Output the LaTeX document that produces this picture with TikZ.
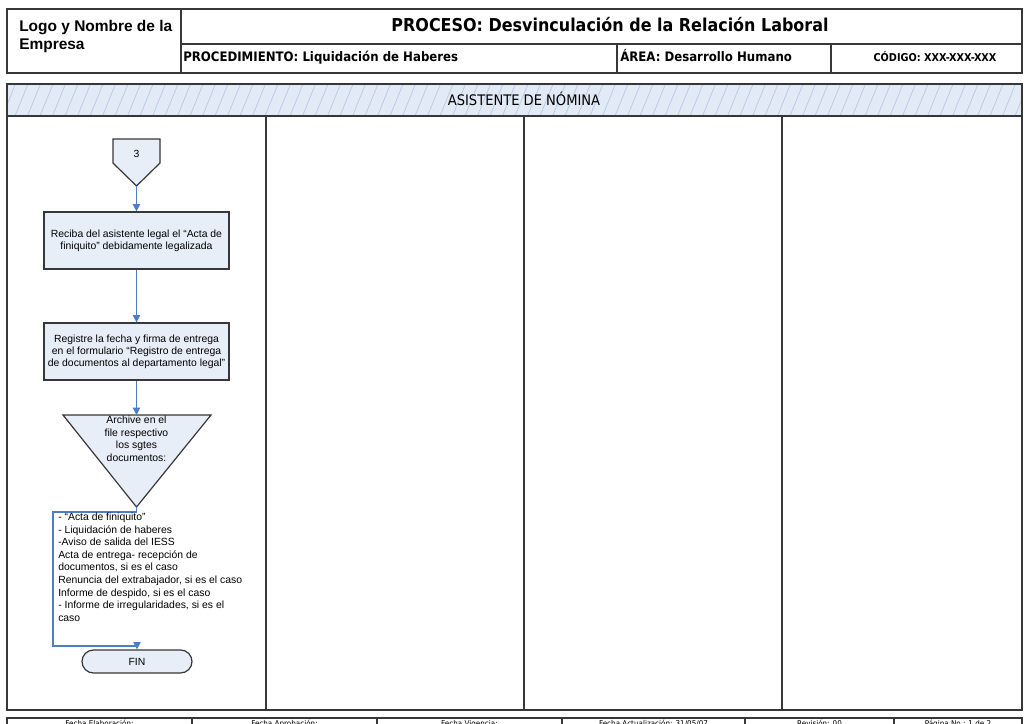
\documentclass[tikz,border=0pt]{standalone}
\usepackage{fontspec}
\setmainfont{Liberation Sans}
\newfontfamily\tah[FakeStretch=0.9]{DejaVu Sans}
\usetikzlibrary{arrows.meta}
\definecolor{boxfill}{RGB}{232,238,248}
\definecolor{bandfill}{RGB}{226,234,246}
\definecolor{hatch}{RGB}{188,204,228}
\definecolor{flow}{RGB}{74,126,200}
\definecolor{frame}{RGB}{55,55,55}
\tikzset{
  frameline/.style={draw=frame,line width=1.1pt},
  procbox/.style={draw=frame,fill=boxfill,line width=0.9pt,minimum width=138.75pt,minimum height=42.75pt,inner sep=0pt,align=center,font=\fontsize{7.8}{9}\selectfont},
  endbox/.style={draw=frame,fill=boxfill,line width=0.9pt,minimum width=82.5pt,minimum height=17.25pt,rounded corners=8.6pt,inner sep=0pt,font=\fontsize{7.8}{9}\selectfont},
  flowarrow/.style={draw=flow,line width=0.9pt,-{Triangle[width=5.5pt,length=5.5pt]}},
  bodytext/.style={inner sep=0pt,align=left,font=\fontsize{7.8}{9.4}\selectfont},
  foottext/.style={anchor=base,inner sep=0pt,font=\tah\fontsize{6}{7}\selectfont},
  logotext/.style={anchor=base west,inner sep=0pt,font=\bfseries\fontsize{11.6}{13.5}\selectfont},
}
\begin{document}
\begin{tikzpicture}[x=0.75pt,y=-0.75pt]
\useasboundingbox (0,0) rectangle (1028,724);
\clip (0,0) rectangle (1028,724);
\fill[white] (0,0) rectangle (1028,724);
% header
\draw[frameline] (7,9) rectangle (1022,73);
\draw[frameline] (181,9) -- (181,73);
\draw[frameline] (181,44) -- (1022,44);
\draw[frameline] (617,44) -- (617,73);
\draw[frameline] (831,44) -- (831,73);
\node[logotext] (logo1) at (19,32) {Logo y Nombre de la};
\node[logotext] (logo2) at (19,50) {Empresa};
\node[anchor=base,inner sep=0pt,font=\tah\bfseries\fontsize{13.3}{15}\selectfont] (title) at (610,32) {PROCESO: Desvinculación de la Relación Laboral};
\node[anchor=base west,inner sep=0pt,font=\tah\bfseries\fontsize{9.8}{11}\selectfont] (proc) at (183,62) {PROCEDIMIENTO: Liquidación de Haberes};
\node[anchor=base west,inner sep=0pt,font=\tah\bfseries\fontsize{9.8}{11}\selectfont] (area) at (620,62) {ÁREA: Desarrollo Humano};
\node[anchor=base,inner sep=0pt,font=\tah\bfseries\fontsize{8.1}{10}\selectfont] (cod) at (935,62) {CÓDIGO: XXX-XXX-XXX};
% lane band
\fill[bandfill] (7,84) rectangle (1022,116);
\begin{scope}
\clip (7,84) rectangle (1022,116);
\foreach \i in {0,...,84} {
  \draw[hatch,line width=0.6pt] ({\i*12.5-10},116) -- ({\i*12.5+3},84);
}
\end{scope}
\draw[frameline] (7,84) rectangle (1022,710);
\draw[frameline] (7,116) -- (1022,116);
\foreach \xx in {266,524,782} { \draw[frameline] (\xx,116) -- (\xx,710); }
\node[anchor=base,inner sep=0pt,font=\tah\fontsize{10.9}{12}\selectfont] (lane) at (524,106) {ASISTENTE DE NÓMINA};
% footer
\draw[frameline,line width=1.4pt] (7,718) rectangle (1022,745);
\foreach \xx in {192,377,562,745,894} { \draw[frameline] (\xx,718) -- (\xx,745); }
\node[foottext] (f1) at (99.5,726) {Fecha Elaboración:};
\node[foottext] (f2) at (284.5,726) {Fecha Aprobación:};
\node[foottext] (f3) at (469.5,726) {Fecha Vigencia:};
\node[foottext] (f4) at (653.5,726) {Fecha Actualización: 31/05/07};
\node[foottext] (f5) at (819.5,726) {Revisión: 00};
\node[foottext] (f6) at (958,726) {Página No.: 1 de 2};
% off-page connector
\draw[draw=frame,fill=boxfill,line width=0.9pt] (113,139) -- (160,139) -- (160,163) -- (136.5,186) -- (113,163) -- cycle;
\node[inner sep=0pt,font=\fontsize{7.8}{9}\selectfont] (c3) at (136.5,154) {3};
\coordinate (c3tip) at (136.5,186);
% process boxes
\node[procbox] (b1) at (136.5,240.5) {Reciba del asistente legal el “Acta de\\finiquito” debidamente legalizada};
\node[procbox] (b2) at (136.5,351.5) {Registre la fecha y firma de entrega\\en el formulario “Registro de entrega\\de documentos al departamento legal”};
% archive triangle
\draw[draw=frame,fill=boxfill,line width=0.9pt] (63,415) -- (211,415) -- (136.5,507) -- cycle;
\coordinate (tritop) at (136.5,415);
\coordinate (triapex) at (136.5,507);
\node[anchor=north,inner sep=0pt,align=center,font=\fontsize{7.8}{9.4}\selectfont] (tritext) at (136.5,416) {Archive en el\\file respectivo\\los sgtes\\documentos:};
% end
\node[endbox] (fin) at (137,661.5) {FIN};
% connectors
\draw[flowarrow] (c3tip) -- (b1.north);
\draw[flowarrow] (b1.south) -- (b2.north);
\draw[flowarrow] (b2.south) -- (tritop);
\draw[flowarrow] (triapex) -- (136.5,512) -- (53,512) -- (53,646) -| (fin.north);
% list text
\node[anchor=north west,bodytext] (list) at (58,513) {- “Acta de finiquito”\\- Liquidación de haberes\\-Aviso de salida del IESS\\Acta de entrega- recepción de\\documentos, si es el caso\\Renuncia del extrabajador, si es el caso\\Informe de despido, si es el caso\\- Informe de irregularidades, si es el\\caso};
\end{tikzpicture}
\end{document}
